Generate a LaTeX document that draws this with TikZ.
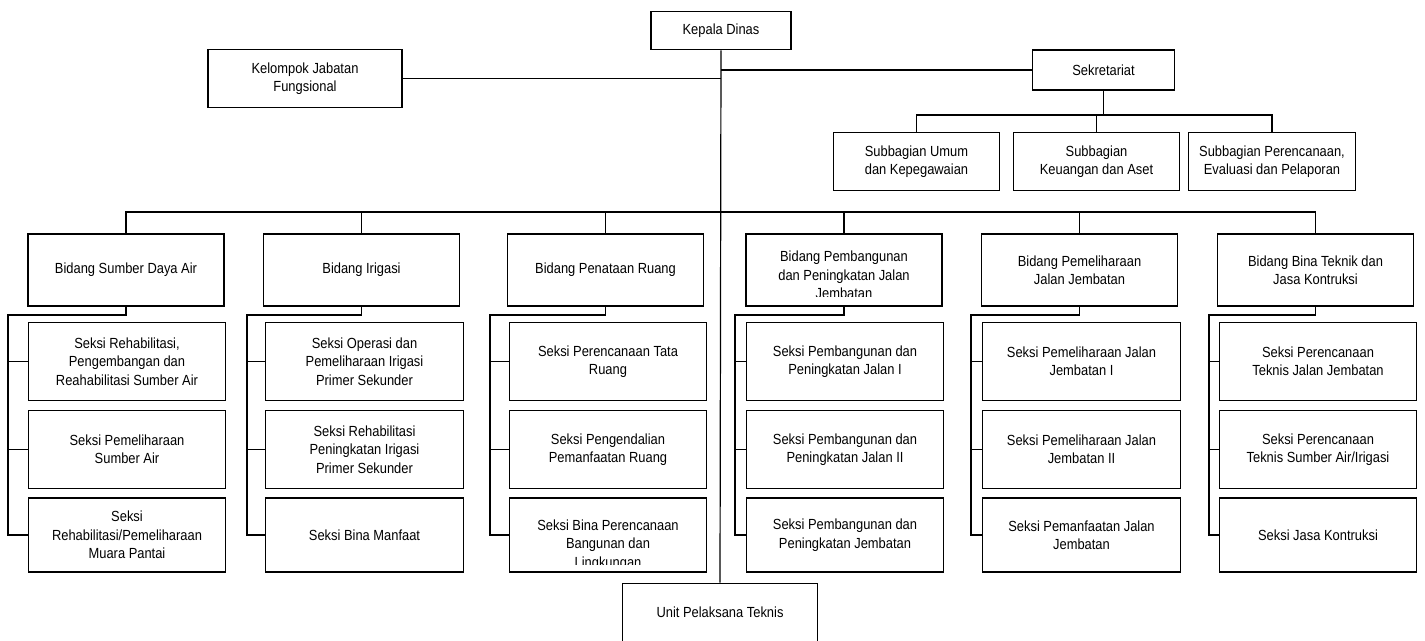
\documentclass[tikz,border=0pt]{standalone}
\usepackage{fontspec}
\setmainfont{Liberation Sans}[FakeStretch=0.88]

\begin{document}
\begin{tikzpicture}[x=0.75pt, y=-0.75pt, line width=0.9pt,
    every node/.style={font=\fontsize{11}{13.8}\selectfont, align=center},
    kotak/.style={draw=black, inner sep=2pt},
    bidang/.style={kotak, minimum width=147pt, minimum height=54pt},
    seksi/.style={kotak, minimum width=148pt, minimum height=59pt},
    seksiakhir/.style={kotak, minimum width=148pt, minimum height=55.5pt},
    subbag/.style={kotak, minimum width=125pt, minimum height=44pt}]
    \useasboundingbox (0,0) rectangle (1425,640);

    % pimpinan, staf dan UPT
    \node[kotak, minimum width=105pt, minimum height=29pt] at (721,30.5) (kd) {Kepala Dinas};
    \node[kotak, minimum width=145.5pt, minimum height=43pt] at (305,78.5) (kjf) {Kelompok Jabatan\\Fungsional};
    \node[kotak, minimum width=106pt, minimum height=30pt] at (1103.5,70) (sek) {Sekretariat};
    \node[kotak, minimum width=146pt, minimum height=44pt] at (720,612.5) (upt) {Unit Pelaksana Teknis};

    % subbagian
    \node[subbag] at (916.5,161.5) (sub1) {Subbagian Umum\\dan Kepegawaian};
    \node[subbag] at (1096.5,161.5) (sub2) {Subbagian\\Keuangan dan Aset};
    \node[subbag] at (1272,161.5) (sub3) {Subbagian Perencanaan,\\Evaluasi dan Pelaporan};

    % bidang
    \node[bidang] at (126,270) (b1) {Bidang Sumber Daya Air};
    \node[bidang] at (361.5,270) (b2) {Bidang Irigasi};
    \node[bidang] at (605.5,270) (b3) {Bidang Penataan Ruang};
    \node[bidang] at (844,270) (b4) {};
    \begin{scope}
        \clip ([yshift=7.5pt]b4.south west) rectangle (b4.north east);
        \node at ([yshift=-3.75pt]b4.center) (b4t) {Bidang Pembangunan\\dan Peningkatan Jalan\\Jembatan};
    \end{scope}
    \node[bidang] at (1079.5,270) (b5) {Bidang Pemeliharaan\\Jalan Jembatan};
    \node[bidang] at (1315.5,270) (b6) {Bidang Bina Teknik dan\\Jasa Kontruksi};

    % seksi
    \node[seksi] at (127,361.5) (s11) {Seksi Rehabilitasi,\\Pengembangan dan\\Reahabilitasi Sumber Air};
    \node[seksi] at (127,449.5) (s12) {Seksi Pemeliharaan\\Sumber Air};
    \node[seksiakhir] at (127,535) (s13) {Seksi\\Rehabilitasi/Pemeliharaan\\Muara Pantai};
    \node[seksi] at (364.5,361.5) (s21) {Seksi Operasi dan\\Pemeliharaan Irigasi\\Primer Sekunder};
    \node[seksi] at (364.5,449.5) (s22) {Seksi Rehabilitasi\\Peningkatan Irigasi\\Primer Sekunder};
    \node[seksiakhir] at (364.5,535) (s23) {Seksi Bina Manfaat};
    \node[seksi] at (608,361.5) (s31) {Seksi Perencanaan Tata\\Ruang};
    \node[seksi] at (608,449.5) (s32) {Seksi Pengendalian\\Pemanfaatan Ruang};
    \node[seksiakhir] at (608,535) (s33) {};
    \begin{scope}
        \clip ([yshift=6pt]s33.south west) rectangle (s33.north east);
        \node at ([yshift=-7.5pt]s33.center) (s33t) {Seksi Bina Perencanaan\\Bangunan dan\\Lingkungan};
    \end{scope}
    \node[seksi] at (845,361.5) (s41) {Seksi Pembangunan dan\\Peningkatan Jalan I};
    \node[seksi] at (845,449.5) (s42) {Seksi Pembangunan dan\\Peningkatan Jalan II};
    \node[seksiakhir] at (845,535) (s43) {Seksi Pembangunan dan\\Peningkatan Jembatan};
    \node[seksi] at (1081.5,361.5) (s51) {Seksi Pemeliharaan Jalan\\Jembatan I};
    \node[seksi] at (1081.5,449.5) (s52) {Seksi Pemeliharaan Jalan\\Jembatan II};
    \node[seksiakhir] at (1081.5,535) (s53) {Seksi Pemanfaatan Jalan\\Jembatan};
    \node[seksi] at (1318,361.5) (s61) {Seksi Perencanaan\\Teknis Jalan Jembatan};
    \node[seksi] at (1318,449.5) (s62) {Seksi Perencanaan\\Teknis Sumber Air/Irigasi};
    \node[seksiakhir] at (1318,535) (s63) {Seksi Jasa Kontruksi};

    % garis komando
    \draw (kd.south) -- (upt.north);
    \draw (kjf.east) -- (kjf.east -| kd.south);
    \draw (sek.west) -- (sek.west -| kd.south);

    \coordinate (sekbus) at (1103.5,115);
    \draw (sek.south) -- (sekbus);
    \draw (sub1.north) |- (sekbus) -| (sub3.north);
    \draw (sub2.north) -- (sub2.north |- sekbus);

    \coordinate (bus) at (720,212);
    \draw (b1.north) |- (bus) -| (b6.north);
    \draw (b2.north) -- (b2.north |- bus);
    \draw (b3.north) -- (b3.north |- bus);
    \draw (b4.north) -- (b4.north |- bus);
    \draw (b5.north) -- (b5.north |- bus);

    \coordinate (p1) at (8,315);
    \coordinate (p2) at (247,315);
    \coordinate (p3) at (490,315);
    \coordinate (p4) at (735,315);
    \coordinate (p5) at (971,315);
    \coordinate (p6) at (1209,315);
    \draw (b1.south) |- (p1) |- (s13.west);
    \draw (p1) |- (s11.west);
    \draw (p1) |- (s12.west);
    \draw (b2.south) |- (p2) |- (s23.west);
    \draw (p2) |- (s21.west);
    \draw (p2) |- (s22.west);
    \draw (b3.south) |- (p3) |- (s33.west);
    \draw (p3) |- (s31.west);
    \draw (p3) |- (s32.west);
    \draw (b4.south) |- (p4) |- (s43.west);
    \draw (p4) |- (s41.west);
    \draw (p4) |- (s42.west);
    \draw (b5.south) |- (p5) |- (s53.west);
    \draw (p5) |- (s51.west);
    \draw (p5) |- (s52.west);
    \draw (b6.south) |- (p6) |- (s63.west);
    \draw (p6) |- (s61.west);
    \draw (p6) |- (s62.west);
\end{tikzpicture}
\end{document}
